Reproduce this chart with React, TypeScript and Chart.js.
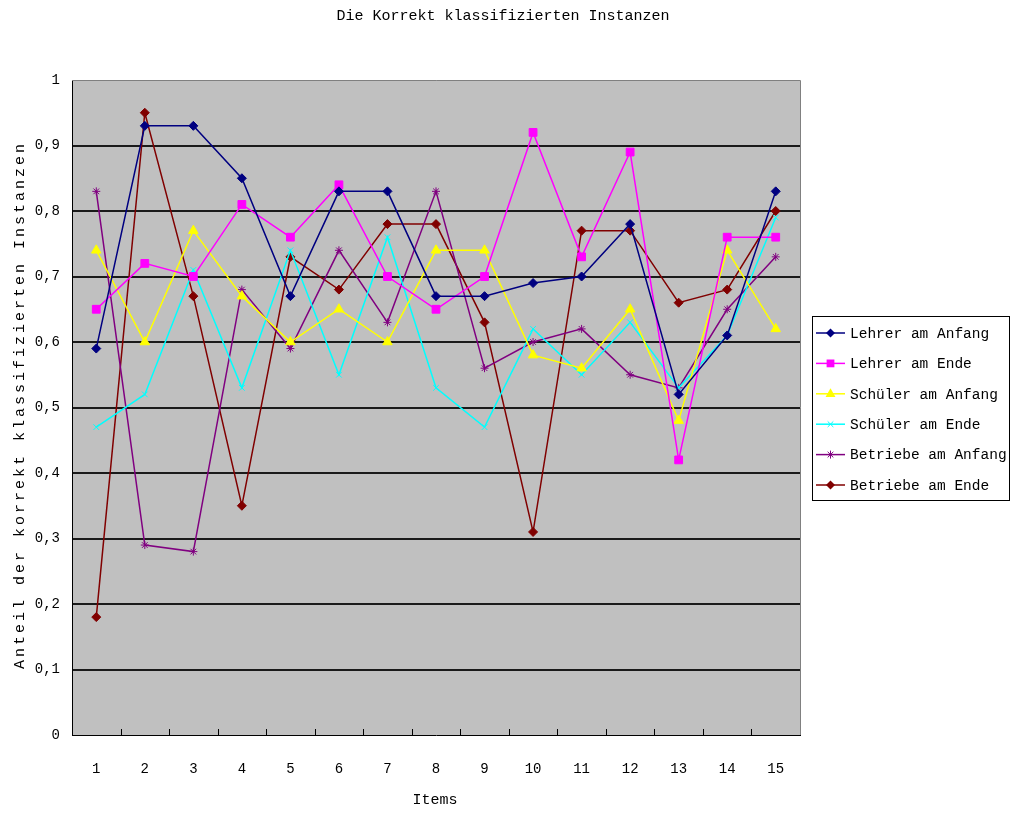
import React, { useEffect, useRef } from "react";
import { Chart, registerables } from "chart.js";

Chart.register(...registerables);

const items = ["1", "2", "3", "4", "5", "6", "7", "8", "9", "10", "11", "12", "13", "14", "15"];
const lehrerAnfang = [0.59, 0.93, 0.93, 0.85, 0.67, 0.83, 0.83, 0.67, 0.67, 0.69, 0.70, 0.78, 0.52, 0.61, 0.83];
const lehrerEnde = [0.65, 0.72, 0.70, 0.81, 0.76, 0.84, 0.70, 0.65, 0.70, 0.92, 0.73, 0.89, 0.42, 0.76, 0.76];
const schuelerAnfang = [0.74, 0.60, 0.77, 0.67, 0.60, 0.65, 0.60, 0.74, 0.74, 0.58, 0.56, 0.65, 0.48, 0.74, 0.62];
const schuelerEnde = [0.47, 0.52, 0.71, 0.53, 0.74, 0.55, 0.76, 0.53, 0.47, 0.62, 0.55, 0.63, 0.53, 0.61, 0.79];
const betriebeAnfang = [0.83, 0.29, 0.28, 0.68, 0.59, 0.74, 0.63, 0.83, 0.56, 0.60, 0.62, 0.55, 0.53, 0.65, 0.73];
const betriebeEnde = [0.18, 0.95, 0.67, 0.35, 0.73, 0.68, 0.78, 0.78, 0.63, 0.31, 0.77, 0.77, 0.66, 0.68, 0.80];

const seriesLabels = [
  "Lehrer am Anfang",
  "Lehrer am Ende",
  "Schüler am Anfang",
  "Schüler am Ende",
  "Betriebe am Anfang",
  "Betriebe am Ende",
];
const seriesColors = ["#000080", "#FF00FF", "#FFFF00", "#00FFFF", "#800080", "#800000"];
const seriesMarkers = ["rectRot", "rect", "triangle", "crossRot", "star", "rectRot"];
const markerRadius = [4.5, 5.5, 5.5, 4, 4, 4.5];

const titleText = "Die Korrekt klassifizierten Instanzen";
const yTitleText = "Anteil der korrekt klassifizierten Instanzen";
const xTitleText = "Items";

const FONT = "'Liberation Mono', 'DejaVu Sans Mono', monospace";

function drawMarker(ctx: CanvasRenderingContext2D, type: string, x: number, y: number, r: number, color: string) {
  ctx.save();
  ctx.fillStyle = color;
  ctx.strokeStyle = color;
  ctx.lineWidth = 1;
  ctx.beginPath();
  if (type === "rectRot") {
    ctx.moveTo(x, y - r);
    ctx.lineTo(x + r, y);
    ctx.lineTo(x, y + r);
    ctx.lineTo(x - r, y);
    ctx.closePath();
    ctx.fill();
  } else if (type === "rect") {
    const s = r * Math.SQRT1_2;
    ctx.rect(x - s, y - s, 2 * s, 2 * s);
    ctx.fill();
  } else if (type === "triangle") {
    ctx.moveTo(x, y - r);
    ctx.lineTo(x + r * 0.9, y + r * 0.6);
    ctx.lineTo(x - r * 0.9, y + r * 0.6);
    ctx.closePath();
    ctx.fill();
  } else if (type === "crossRot") {
    const s = r * Math.SQRT1_2;
    ctx.moveTo(x - s, y - s);
    ctx.lineTo(x + s, y + s);
    ctx.moveTo(x + s, y - s);
    ctx.lineTo(x - s, y + s);
    ctx.stroke();
  } else if (type === "star") {
    const s = r * Math.SQRT1_2;
    ctx.moveTo(x - s, y - s);
    ctx.lineTo(x + s, y + s);
    ctx.moveTo(x + s, y - s);
    ctx.lineTo(x - s, y + s);
    ctx.moveTo(x, y - r);
    ctx.lineTo(x, y + r);
    ctx.stroke();
  }
  ctx.restore();
}

const decorPlugin = {
  id: "decor",
  beforeDraw(chart: any) {
    const { ctx, chartArea } = chart;
    ctx.save();
    ctx.fillStyle = "#FFFFFF";
    ctx.fillRect(0, 0, chart.width, chart.height);
    ctx.fillStyle = "#C0C0C0";
    ctx.fillRect(chartArea.left, chartArea.top, chartArea.right - chartArea.left, chartArea.bottom - chartArea.top);
    ctx.restore();
  },
  afterDatasetsDraw(chart: any) {
    const { ctx, chartArea } = chart;
    ctx.save();
    // plot border top & right (gray)
    ctx.strokeStyle = "#808080";
    ctx.lineWidth = 1;
    ctx.beginPath();
    ctx.moveTo(chartArea.left, chartArea.top + 0.5);
    ctx.lineTo(chartArea.right + 0.5, chartArea.top + 0.5);
    ctx.lineTo(chartArea.right + 0.5, chartArea.bottom);
    ctx.stroke();
    // x tick marks inside plot, between categories
    const n = items.length;
    const w = (chartArea.right - chartArea.left) / n;
    ctx.strokeStyle = "#000000";
    ctx.beginPath();
    for (let i = 1; i < n; i++) {
      const x = Math.round(chartArea.left + i * w) + 0.5;
      ctx.moveTo(x, chartArea.bottom);
      ctx.lineTo(x, chartArea.bottom - 6);
    }
    ctx.stroke();

    // titles
    ctx.fillStyle = "#000000";
    ctx.font = `15px ${FONT}`;
    ctx.textAlign = "center";
    ctx.textBaseline = "middle";
    ctx.fillText(titleText, 503, 16);
    ctx.fillText(xTitleText, 435, 800);

    ctx.save();
    ctx.translate(20, 405);
    ctx.rotate(-Math.PI / 2);
    (ctx as any).letterSpacing = "3px";
    ctx.font = `15px ${FONT}`;
    ctx.fillText(yTitleText, 0, 0);
    ctx.restore();

    // legend
    const bx = 812.5, by = 316.5, bw = 197, bh = 184;
    ctx.fillStyle = "#FFFFFF";
    ctx.fillRect(bx, by, bw, bh);
    ctx.strokeStyle = "#000000";
    ctx.lineWidth = 1;
    ctx.strokeRect(bx, by, bw, bh);
    ctx.font = `14.5px ${FONT}`;
    ctx.textAlign = "left";
    ctx.textBaseline = "middle";
    chart.data.datasets.forEach((ds: any, i: number) => {
      const y = 333 + i * 30.4;
      ctx.strokeStyle = ds.borderColor;
      ctx.lineWidth = 1.5;
      ctx.beginPath();
      ctx.moveTo(816, y);
      ctx.lineTo(845, y);
      ctx.stroke();
      drawMarker(ctx, seriesMarkers[i], 830.5, y, markerRadius[i], ds.borderColor);
      ctx.fillStyle = "#000000";
      ctx.fillText(ds.label, 850, y + 1);
    });
    ctx.restore();
  },
};

export default function App() {
  const canvasRef = useRef<HTMLCanvasElement | null>(null);

  useEffect(() => {
    if (!canvasRef.current) return;
    const seriesData = [lehrerAnfang, lehrerEnde, schuelerAnfang, schuelerEnde, betriebeAnfang, betriebeEnde];
    const chart = new Chart(canvasRef.current, {
      type: "line",
      data: {
        labels: items,
        datasets: seriesData.map((d, i) => ({
          label: seriesLabels[i],
          data: d,
          borderColor: seriesColors[i],
          backgroundColor: seriesColors[i],
          pointBorderColor: seriesColors[i],
          pointBackgroundColor: seriesColors[i],
          pointStyle: seriesMarkers[i] as any,
          pointRadius: markerRadius[i],
          pointBorderWidth: 1,
          borderWidth: 1.5,
          tension: 0,
          fill: false,
        })),
      },
      options: {
        responsive: false,
        animation: false,
        layout: { padding: { top: 80, right: 219, left: 0, bottom: 0 } },
        plugins: {
          legend: { display: false },
          title: { display: false },
          tooltip: { enabled: false },
        },
        scales: {
          x: {
            type: "category",
            offset: true,
            afterFit: (s: any) => {
              s.height = 81;
            },
            grid: { display: false, drawTicks: false },
            border: { display: true, color: "#000000", width: 1 },
            ticks: {
              padding: 26,
              color: "#000000",
              font: { family: FONT, size: 14 },
              maxRotation: 0,
              autoSkip: false,
            },
          },
          y: {
            min: 0,
            max: 1,
            afterFit: (s: any) => {
              s.width = 72;
            },
            grid: {
              drawTicks: false,
              lineWidth: 2,
              color: (c: any) => (c.tick && (c.tick.value >= 0.999 || c.tick.value <= 0.001) ? "rgba(0,0,0,0)" : "#1a1a1a"),
            },
            border: { display: true, color: "#000000", width: 1 },
            ticks: {
              stepSize: 0.1,
              padding: 12,
              color: "#000000",
              font: { family: FONT, size: 14 },
              callback: (v: any) => {
                const n = Number(v);
                if (Math.abs(n) < 1e-9) return "0";
                if (Math.abs(n - 1) < 1e-9) return "1";
                return n.toFixed(1).replace(".", ",");
              },
            },
          },
        },
      },
      plugins: [decorPlugin],
    });
    return () => chart.destroy();
  }, []);

  return (
    <div style={{ position: "fixed", left: 0, top: 0, width: 1019, height: 816, background: "#fff" }}>
      <canvas ref={canvasRef} width={1019} height={816} style={{ width: 1019, height: 816, display: "block" }} />
    </div>
  );
}
